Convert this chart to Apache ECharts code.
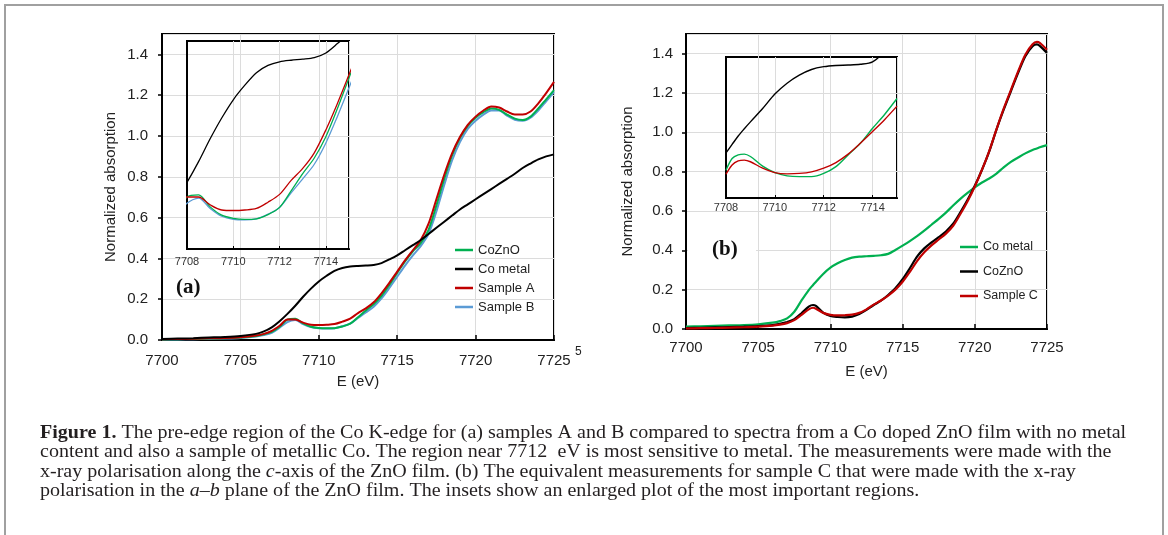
<!DOCTYPE html>
<html>
<head>
<meta charset="utf-8">
<script src="https://cdn.jsdelivr.net/npm/echarts@6/dist/echarts.min.js"></script>
<style>html,body{margin:0;padding:0;background:#fff}#c{width:1168px;height:535px}</style>
</head>
<body>
<div id="c"></div>
<script>
// ---------- Panel (a) data ----------
const energyA = [7700,7701,7702,7703,7704,7705,7706,7706.5,7707,7707.5,7708,7708.5,7709,7709.5,7710,7710.5,7711,7711.5,7712,7712.5,7713,7713.5,7714,7714.5,7715,7715.5,7716,7716.5,7717,7717.5,7718,7718.5,7719,7719.5,7720,7720.5,7721,7721.5,7722,7722.5,7723,7723.5,7724,7724.5,7725];
const coMetalA = [0.005,0.007,0.009,0.012,0.015,0.02,0.03,0.042,0.062,0.092,0.128,0.168,0.212,0.252,0.287,0.315,0.339,0.353,0.36,0.363,0.365,0.368,0.377,0.395,0.415,0.44,0.465,0.49,0.52,0.55,0.58,0.61,0.64,0.665,0.69,0.715,0.74,0.765,0.79,0.815,0.843,0.865,0.885,0.9,0.91];
const coZnOA = [0.003,0.004,0.005,0.007,0.009,0.012,0.02,0.028,0.04,0.065,0.1,0.104,0.081,0.065,0.059,0.057,0.058,0.066,0.08,0.112,0.145,0.175,0.216,0.27,0.329,0.385,0.435,0.475,0.54,0.66,0.79,0.905,0.99,1.05,1.09,1.117,1.135,1.128,1.105,1.085,1.078,1.095,1.135,1.18,1.225];
const sampleA = [0.004,0.005,0.006,0.008,0.01,0.014,0.022,0.03,0.045,0.07,0.1,0.1,0.085,0.075,0.074,0.075,0.078,0.09,0.105,0.132,0.155,0.185,0.229,0.28,0.335,0.39,0.44,0.49,0.57,0.69,0.81,0.915,0.995,1.055,1.095,1.125,1.145,1.14,1.12,1.105,1.105,1.12,1.16,1.21,1.265];
const sampleB = [0.002,0.003,0.004,0.005,0.007,0.01,0.017,0.024,0.035,0.06,0.088,0.098,0.078,0.063,0.057,0.056,0.058,0.067,0.08,0.108,0.135,0.163,0.204,0.255,0.31,0.365,0.415,0.46,0.52,0.63,0.76,0.88,0.97,1.035,1.075,1.105,1.125,1.125,1.1,1.08,1.075,1.09,1.125,1.17,1.215];

// ---------- Panel (b) data ----------
const energyB = [7700,7701,7702,7703,7704,7705,7706,7706.5,7707,7707.5,7708,7708.5,7708.8,7709,7709.5,7710,7710.5,7711,7711.5,7712,7712.5,7713,7713.5,7714,7714.5,7715,7715.5,7716,7716.5,7717,7717.5,7718,7718.5,7719,7719.5,7720,7720.5,7721,7721.5,7722,7722.5,7723,7723.5,7724,7724.3,7724.5,7725];
const coMetalB = [0.012,0.014,0.016,0.018,0.02,0.024,0.032,0.04,0.054,0.088,0.145,0.198,0.224,0.24,0.28,0.312,0.334,0.351,0.363,0.368,0.37,0.372,0.375,0.382,0.402,0.424,0.447,0.472,0.5,0.53,0.56,0.592,0.628,0.662,0.692,0.72,0.745,0.765,0.79,0.822,0.85,0.872,0.893,0.91,0.918,0.924,0.935];
const coZnOB = [0.005,0.006,0.008,0.01,0.012,0.015,0.02,0.026,0.035,0.05,0.08,0.114,0.122,0.117,0.083,0.066,0.061,0.059,0.063,0.076,0.097,0.122,0.144,0.173,0.207,0.253,0.309,0.368,0.41,0.44,0.467,0.496,0.535,0.593,0.657,0.728,0.81,0.903,1.014,1.115,1.209,1.302,1.387,1.438,1.447,1.44,1.404];
const sampleC = [0.003,0.004,0.005,0.007,0.009,0.012,0.017,0.022,0.03,0.045,0.072,0.1,0.108,0.103,0.082,0.072,0.069,0.07,0.073,0.082,0.1,0.124,0.145,0.17,0.2,0.24,0.29,0.345,0.39,0.425,0.455,0.485,0.525,0.585,0.65,0.725,0.81,0.905,1.015,1.12,1.215,1.31,1.395,1.448,1.46,1.455,1.42];

// inset of panel (b)
const energyInsetB = [7708,7708.25,7708.5,7708.75,7709,7709.5,7710,7710.5,7711,7711.5,7712,7712.5,7713,7713.5,7714,7714.5,7715];
const insetCoMetalB = [0.112,0.133,0.154,0.172,0.189,0.222,0.258,0.285,0.305,0.319,0.326,0.329,0.33,0.332,0.338,0.365,0.41];
const insetCoZnOB = [0.069,0.098,0.107,0.109,0.103,0.079,0.063,0.055,0.053,0.053,0.061,0.078,0.107,0.136,0.173,0.208,0.247];
const insetSampleC = [0.059,0.082,0.092,0.094,0.09,0.074,0.063,0.06,0.061,0.065,0.074,0.088,0.109,0.136,0.165,0.195,0.228];

// tick settings
const mainXTicks = {min: 7700, max: 7725, interval: 5};
const insetXTicks = {min: 7708, max: 7715, interval: 2};
const mainYTicks = {min: 0, max: 1.5, interval: 0.2};

const captionLines = [
  '{b|Figure 1.} The pre-edge region of the Co K-edge for (a) samples A and B compared to spectra from a Co doped ZnO film with no metal',
  'content and also a sample of metallic Co. The region near 7712  eV is most sensitive to metal. The measurements were made with the',
  'x-ray polarisation along the {i|c}-axis of the ZnO film. (b) The equivalent measurements for sample C that were made with the x-ray',
  'polarisation in the {i|a}\u2013{i|b} plane of the ZnO film. The insets show an enlarged plot of the most important regions.'
];

const GREEN = '#00b050', BLACK = '#000000', RED = '#c00000', BLUE = '#5b9bd5';
const pairs = (xs, ys) => xs.map((x, i) => [x, ys[i]]);
const SANS = 'Liberation Sans';
const SERIF = 'Liberation Serif';

function mainX(grid, margin, gap) {
  return {
    gridIndex: grid, type: 'value', ...mainXTicks,
    axisLine: {show: true, lineStyle: {color: '#000', width: 2}},
    axisTick: {show: true, inside: true, length: 5, lineStyle: {color: '#000', width: 1.5}},
    axisLabel: {fontSize: 15, color: '#222', margin: margin, fontFamily: SANS, formatter: v => String(v)},
    splitLine: {show: true, lineStyle: {color: '#dcdcdc', width: 1}},
    name: 'E (eV)', nameLocation: 'middle', nameGap: gap,
    nameTextStyle: {fontSize: 15, color: '#222', fontFamily: SANS}
  };
}
function insetX(grid, margin) {
  return {
    gridIndex: grid, type: 'value', ...insetXTicks,
    axisLine: {show: true, lineStyle: {color: '#000', width: 2}},
    axisTick: {show: true, inside: true, length: 3, lineStyle: {color: '#000'}},
    axisLabel: {fontSize: 11, color: '#333', margin: margin, fontFamily: SANS, showMaxLabel: false, formatter: v => String(v)},
    splitLine: {show: true, lineStyle: {color: '#dcdcdc', width: 1}}
  };
}
function mainY(grid, margin, gap) {
  return {
    gridIndex: grid, type: 'value', ...mainYTicks,
    axisLine: {show: true, lineStyle: {color: '#000', width: 2}},
    axisTick: {show: true, inside: false, length: 4, lineStyle: {color: '#000', width: 1.5}},
    axisLabel: {fontSize: 15, color: '#222', margin: margin, fontFamily: SANS, showMaxLabel: false,
      formatter: v => (v > 1.45 ? '' : v.toFixed(1))},
    splitLine: {show: true, lineStyle: {color: '#dcdcdc', width: 1}},
    name: 'Normalized absorption', nameLocation: 'middle', nameGap: gap,
    nameTextStyle: {fontSize: 15, color: '#222', fontFamily: SANS}
  };
}
function insetY(grid, max) {
  return {
    gridIndex: grid, type: 'value', min: 0, max: max,
    axisLine: {show: true, lineStyle: {color: '#000', width: 2}},
    axisTick: {show: false}, axisLabel: {show: false}, splitLine: {show: false}
  };
}
function line(name, xi, data, color, width, z) {
  return {
    name: name, type: 'line', xAxisIndex: xi, yAxisIndex: xi, data: data,
    showSymbol: false, symbol: 'none', smooth: 0.3, z: z || 2,
    lineStyle: {color: color, width: width}, itemStyle: {color: color},
    emphasis: {disabled: true}
  };
}

const chart = echarts.init(document.getElementById('c'), null, {renderer: 'canvas'});
const gridBase = {show: true, borderColor: '#000', borderWidth: 2, backgroundColor: 'transparent', containLabel: false};

const graphics = [
  {type: 'rect', shape: {x: 5, y: 5, width: 1158, height: 545}, style: {fill: 'none', stroke: '#a0a0a0', lineWidth: 2}, silent: true},
  {type: 'rect', z: 1, shape: {x: 688, y: 234, width: 68, height: 34}, style: {fill: '#fff'}, silent: true},
  {type: 'text', z: 2, x: 176, y: 288, style: {text: '(a)', fontSize: 21, fontWeight: 'bold', fontFamily: SERIF, fill: '#111', verticalAlign: 'middle'}},
  {type: 'text', z: 2, x: 712, y: 250, style: {text: '(b)', fontSize: 21, fontWeight: 'bold', fontFamily: SERIF, fill: '#111', verticalAlign: 'middle'}},
  {type: 'text', x: 575, y: 346, style: {text: '5', fontSize: 12, fontFamily: SANS, fill: '#222'}}
];
captionLines.forEach((t, i) => {
  graphics.push({
    type: 'text', x: 40, y: 433 + i * 19.5, scaleX: 1.113,
    style: {
      text: t, fontSize: 18, fontFamily: SERIF, fill: '#231f20', verticalAlign: 'middle',
      rich: {
        b: {fontSize: 18, fontFamily: SERIF, fontWeight: 'bold', fill: '#231f20'},
        i: {fontSize: 18, fontFamily: SERIF, fontStyle: 'italic', fill: '#231f20'}
      }
    }
  });
});

chart.setOption({
  animation: false,
  textStyle: {fontFamily: SANS},
  grid: [
    {...gridBase, left: 162, top: 34, width: 392, height: 306},
    {...gridBase, left: 187, top: 41, width: 162, height: 208},
    {...gridBase, left: 686, top: 34, width: 361, height: 295},
    {...gridBase, left: 726, top: 57, width: 171, height: 141}
  ],
  xAxis: [mainX(0, 13, 34), insetX(1, 7), mainX(2, 11, 35), insetX(3, 4)],
  yAxis: [mainY(0, 14, 44), insetY(1, 0.4), mainY(2, 13, 51), insetY(3, 0.35)],
  legend: [
    {
      data: ['CoZnO', 'Co metal', 'Sample A', 'Sample B'], orient: 'vertical', left: 455, top: 243,
      icon: 'rect', itemWidth: 18, itemHeight: 2.5, itemGap: 5, padding: 0, selectedMode: false,
      textStyle: {fontSize: 13, color: '#222', fontFamily: SANS, lineHeight: 14}
    },
    {
      data: ['b_Co metal', 'b_CoZnO', 'b_Sample C'], orient: 'vertical', left: 960, top: 240,
      icon: 'rect', itemWidth: 18, itemHeight: 2.5, itemGap: 10.5, padding: 0, selectedMode: false,
      formatter: n => n.slice(2),
      textStyle: {fontSize: 12.5, color: '#222', fontFamily: SANS, lineHeight: 14}
    }
  ],
  series: [
    line('Sample B', 0, pairs(energyA, sampleB), BLUE, 2),
    line('CoZnO', 0, pairs(energyA, coZnOA), GREEN, 2),
    line('Sample A', 0, pairs(energyA, sampleA), RED, 2),
    line('Co metal', 0, pairs(energyA, coMetalA), BLACK, 2),
    line('ia_Sample B', 1, pairs(energyA, sampleB), BLUE, 1.3),
    line('ia_CoZnO', 1, pairs(energyA, coZnOA), GREEN, 1.3),
    line('ia_Sample A', 1, pairs(energyA, sampleA), RED, 1.3),
    line('ia_Co metal', 1, pairs(energyA, coMetalA), BLACK, 1.3),
    line('b_Co metal', 2, pairs(energyB, coMetalB), GREEN, 2.2),
    line('b_CoZnO', 2, pairs(energyB, coZnOB), BLACK, 2.2),
    line('b_Sample C', 2, pairs(energyB, sampleC), RED, 2.2),
    line('ib_Co metal', 3, pairs(energyInsetB, insetCoMetalB), BLACK, 1.4),
    line('ib_CoZnO', 3, pairs(energyInsetB, insetCoZnOB), GREEN, 1.4),
    line('ib_Sample C', 3, pairs(energyInsetB, insetSampleC), RED, 1.4)
  ],
  graphic: graphics
});
</script>
</body>
</html>
